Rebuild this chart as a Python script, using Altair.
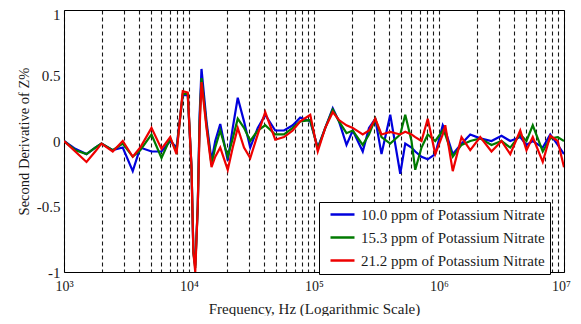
import altair as alt
import pandas as pd

# log10 of frequency (Hz) sample positions
log10_freq = [3.00, 3.09, 3.18, 3.25, 3.30, 3.39, 3.47, 3.55, 3.61, 3.70, 3.78, 3.85, 3.90,
              3.95, 3.99, 4.02, 4.035, 4.05, 4.07, 4.085, 4.10, 4.14, 4.18, 4.21, 4.25, 4.31,
              4.35, 4.39, 4.44, 4.49, 4.55, 4.61, 4.69, 4.76, 4.83, 4.89, 4.97, 5.03, 5.09,
              5.15, 5.20, 5.26, 5.31, 5.39, 5.44, 5.49, 5.54, 5.61, 5.69, 5.73, 5.78, 5.81,
              5.86, 5.91, 5.97, 6.03, 6.05, 6.11, 6.18, 6.25, 6.33, 6.42, 6.50, 6.57, 6.65,
              6.70, 6.75, 6.83, 6.89, 6.95, 7.00]

blue = [0, -0.06, -0.10, -0.05, -0.02, -0.07, -0.05, -0.23, -0.05, -0.08, -0.08, 0.0, -0.05,
        0.35, 0.35, -0.2, -0.85, -0.95, -0.5, 0.2, 0.55, 0.15, -0.15, 0.0, 0.13, -0.15,
        0.10, 0.33, 0.15, -0.05, 0.10, 0.20, 0.08, 0.08, 0.12, 0.18, 0.15, -0.05, 0.10,
        0.25, 0.15, -0.03, 0.08, -0.08, 0.10, 0.17, -0.10, 0.20, -0.25, -0.02, -0.05, -0.08,
        -0.12, -0.14, -0.10, 0.12, 0.08, -0.10, -0.02, 0.05, 0.02, 0.0, 0.04, 0.0, 0.03,
        -0.03, 0.0, -0.05, 0.05, -0.03, -0.10]

green = [0, -0.07, -0.10, -0.05, -0.02, -0.07, -0.02, -0.12, -0.07, 0.05, -0.13, 0.02, -0.08,
         0.36, 0.36, -0.2, -0.85, -0.97, -0.5, 0.15, 0.48, 0.12, -0.18, -0.05, 0.08, -0.12,
         0.02, 0.17, 0.10, 0.0, 0.08, 0.12, 0.05, 0.05, 0.10, 0.15, 0.16, -0.06, 0.10,
         0.24, 0.15, 0.06, 0.08, -0.03, 0.05, 0.17, 0.03, -0.02, 0.05, 0.20, 0.0, -0.22,
         -0.05, 0.05, 0.0, 0.08, 0.05, -0.12, -0.03, 0.0, 0.02, -0.03, 0.0, -0.05, 0.05,
         0.0, 0.12, -0.08, 0.02, 0.03, 0.0]

red = [0, -0.08, -0.16, -0.08, -0.02, -0.08, 0.0, -0.12, -0.05, 0.10, -0.06, 0.03, -0.10,
       0.38, 0.37, -0.2, -0.85, -1.0, -0.5, 0.1, 0.45, 0.1, -0.2, -0.12, -0.05, -0.22,
       -0.05, 0.10, -0.05, -0.13, 0.05, 0.22, 0.01, 0.03, 0.08, 0.15, 0.20, -0.08, 0.10,
       0.22, 0.16, 0.12, 0.10, 0.05, 0.08, 0.17, 0.05, 0.07, 0.05, 0.07, 0.05, 0.03,
       0.0, 0.17, -0.10, 0.05, 0.12, -0.23, 0.03, -0.07, 0.03, -0.08, 0.0, -0.10, 0.08,
       -0.07, 0.03, -0.16, 0.04, 0.0, -0.20]

series_names = ["10.0 ppm of Potassium Nitrate",
                "15.3 ppm of Potassium Nitrate",
                "21.2 ppm of Potassium Nitrate"]
series_colors = ["#0000dd", "#007a00", "#ee0000"]

y_tick_values = [-1, -0.5, 0, 0.5, 1]

rows = []
for name, vals in zip(series_names, [blue, green, red]):
    for u, v in zip(log10_freq, vals):
        rows.append({"freq": 10 ** u, "value": v, "series": name})
df = pd.DataFrame(rows)

grid_values = [m * 10 ** k for k in range(3, 7) for m in range(1, 10)] + [10 ** 7]

x_label_expr = ("datum.value == 1000 ? '10³' : datum.value == 10000 ? '10⁴' : "
                "datum.value == 100000 ? '10⁵' : datum.value == 1000000 ? '10⁶' : "
                "datum.value == 10000000 ? '10⁷' : ''")
y_label_expr = ("datum.value == -1 ? '-1' : datum.value == -0.5 ? '-0.5' : "
                "datum.value == 0 ? '0' : datum.value == 0.5 ? '0.5' : '1'")

font = "Liberation Serif"
text_color = "#1a1a1a"

chart = alt.Chart(df).mark_line(strokeWidth=2.2, clip=True).encode(
    x=alt.X("freq:Q",
            scale=alt.Scale(type="log", domain=[1000, 10000000], nice=False),
            axis=alt.Axis(values=grid_values, labelExpr=x_label_expr, grid=True,
                          gridDash=[4, 3], gridColor="#000000", gridOpacity=0.9,
                          gridWidth=1.1,
                          ticks=False, domain=False, labelFont=font, labelFontSize=14,
                          labelColor=text_color, labelPadding=7, labelOverlap=False,
                          labelFlush=False,
                          labelOffset={"condition": {"test": "datum.value == 10000000",
                                                     "value": -3}, "value": 0},
                          title="Frequency, Hz (Logarithmic Scale)", titleFont=font,
                          titleFontSize=15, titleFontWeight="normal", titleColor=text_color,
                          titlePadding=8)),
    y=alt.Y("value:Q",
            scale=alt.Scale(domain=[-1, 1], nice=False),
            axis=alt.Axis(values=y_tick_values, grid=False, ticks=False,
                          domain=False, labelExpr=y_label_expr,
                          labelFont=font, labelFontSize=15, labelColor=text_color,
                          labelPadding=4,
                          labelOffset={"condition": {"test": "datum.value == 1",
                                                     "value": 4}, "value": 0},
                          title="Second Derivative of Z%", titleFont=font,
                          titleFontSize=14.5, titleFontWeight="normal", titleColor=text_color,
                          titlePadding=5)),
    color=alt.Color("series:N",
                    scale=alt.Scale(domain=series_names, range=series_colors),
                    legend=alt.Legend(title=None, orient="none", legendX=255, legendY=192,
                                      symbolType="M-0.2,0H4.6", symbolSize=100,
                                      symbolStrokeWidth=2.5, labelFont=font,
                                      labelFontSize=15, labelColor=text_color,
                                      labelLimit=400,
                                      strokeColor="#000000", fillColor="white",
                                      padding=5, rowPadding=7, labelOffset=22)),
).properties(
    width=500,
    height=262,
    autosize=alt.AutoSizeParams(type="none"),
    padding={"left": 56, "top": 2, "right": 9, "bottom": 44},
).configure_view(
    stroke="#000000", strokeWidth=1
)

chart.save("out.html", embed_options={"renderer": "svg", "actions": False})
